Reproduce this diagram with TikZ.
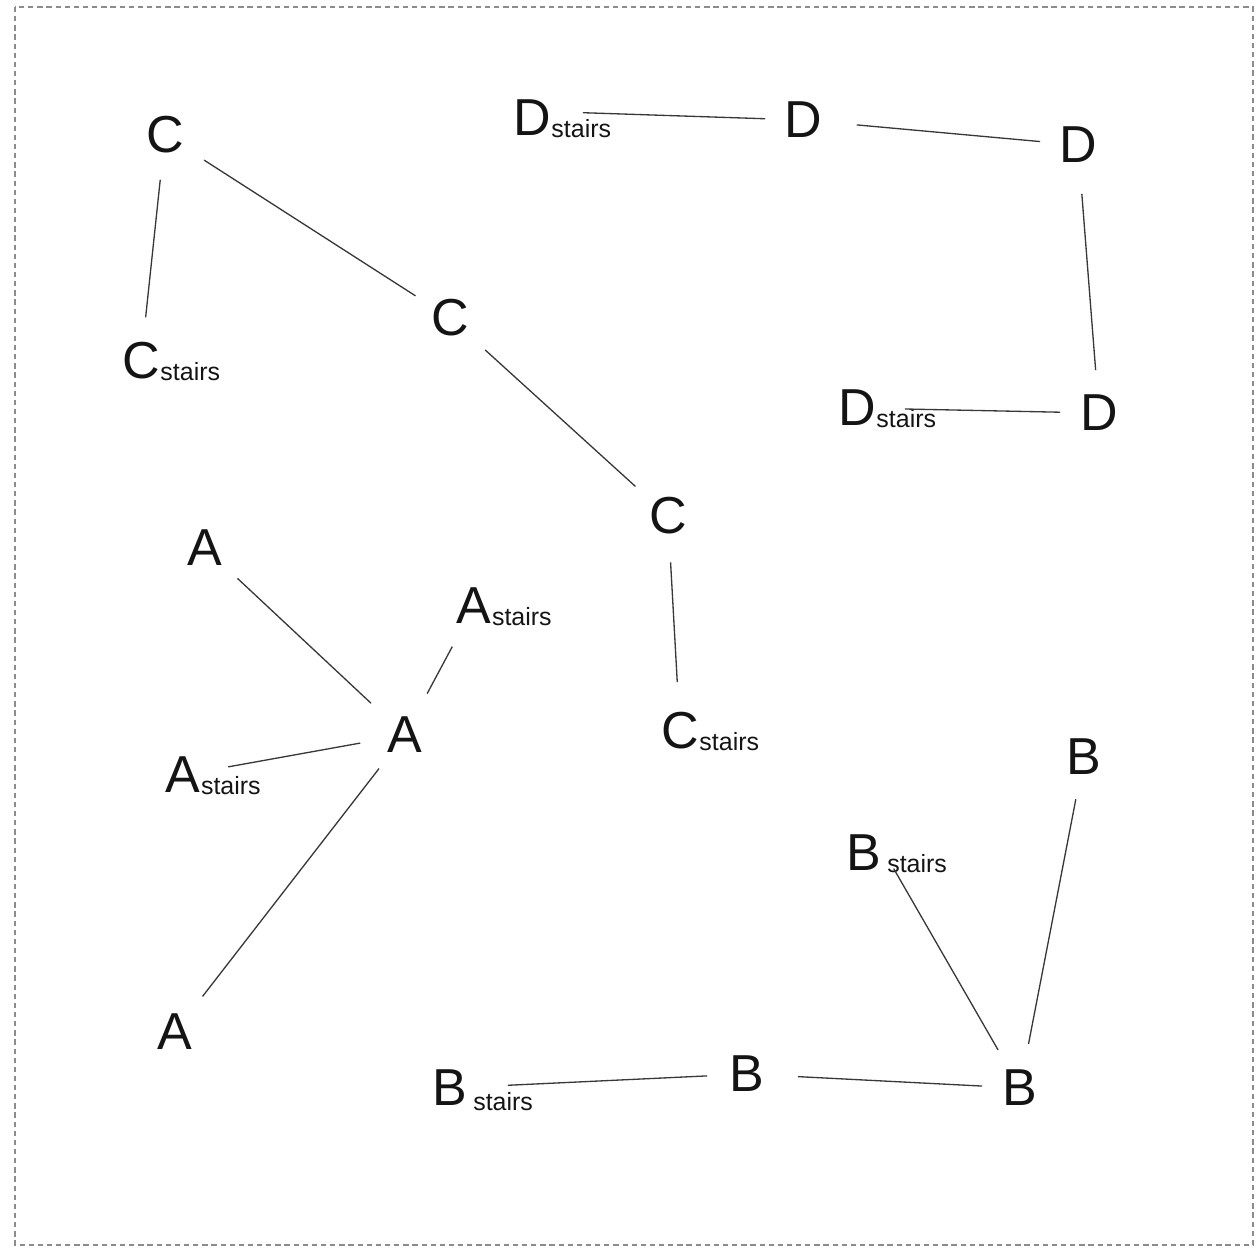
\documentclass[tikz,border=0pt]{standalone}
\usepackage{fontspec}
\setmainfont{Liberation Sans}
\newcommand\mainf{\fontsize{29.6}{30}\selectfont}
\newcommand\subf{\fontsize{14.2}{15}\selectfont}
\usetikzlibrary{calc}
\tikzset{
  lett/.style={inner sep=0pt, text=black!92, font=\mainf},
  subs/.style={inner sep=0pt, anchor=base west, text=black!92, font=\subf, yshift=-1pt},
  edge/.style={draw=black!78, line width=0.75pt},
  frame/.style={draw=black!45, line width=0.6pt, dash pattern=on 3pt off 2.2pt}
}
\begin{document}
\begin{tikzpicture}[x=0.02cm,y=-0.02cm]
\useasboundingbox (0,0) rectangle (1259,1259);
\draw[frame] (15,7) rectangle (1253,1245);

% C group
\node[lett] (c1) at (165,135) {C};
\node[lett] (cs1) at (141,361) {C};
\node[subs] (cs1s) at (cs1.base east) {stairs};
\node[lett] (c2) at (450,318) {C};
\node[lett] (c3) at (668,516) {C};
\node[lett] (cs3) at (680,731) {C};
\node[subs] (cs3s) at (cs3.base east) {stairs};

% D group
\node[lett] (ds1) at (532,118) {D};
\node[subs] (ds1s) at (ds1.base east) {stairs};
\node[lett] (d2) at (803,120) {D};
\node[lett] (d3) at (1078,145) {D};
\node[lett] (d4) at (1099,413) {D};
\node[lett] (ds2) at (857,408) {D};
\node[subs] (ds2s) at (ds2.base east) {stairs};

% A group
\node[lett] (a1) at (205,548) {A};
\node[lett] (as1) at (474,606) {A};
\node[subs] (as1s) at (as1.base east) {stairs};
\node[lett] (a2) at (405,735) {A};
\node[lett] (as2) at (183,775) {A};
\node[subs] (as2s) at (as2.base east) {stairs};
\node[lett] (a3) at (175,1032) {A};

% B group
\node[lett] (b1) at (1084,757) {B};
\node[lett] (bs1) at (864,853) {B};
\node[subs, xshift=3pt] (bs1s) at (bs1.base east) {stairs};
\node[lett] (b3) at (1020,1088) {B};
\node[lett] (b2) at (747,1074) {B};
\node[lett] (bs2) at (450,1088) {B};
\node[subs, xshift=3pt, yshift=-1.5pt] (bs2s) at (bs2.base east) {stairs};

% edges
\draw[edge, shorten <=0.90cm, shorten >=0.88cm] (c1.center) -- (cs1.center);
\draw[edge, shorten <=0.93cm, shorten >=0.82cm] (c1.center) -- (c2.center);
\draw[edge, shorten <=0.95cm, shorten >=0.88cm] (c2.center) -- (c3.center);
\draw[edge, shorten <=0.93cm, shorten >=0.98cm] (c3.center) -- (cs3.center);

\draw[edge, shorten <=1.02cm, shorten >=0.76cm] ($(ds1.center)+(0,-7)$) -- (d2.center);
\draw[edge, shorten <=1.08cm, shorten >=0.76cm] (d2.center) -- (d3.center);
\draw[edge, shorten <=0.98cm, shorten >=0.86cm] (d3.center) -- (d4.center);
\draw[edge, shorten <=0.78cm, shorten >=0.96cm] (d4.center) -- (ds2.center);

\draw[edge, shorten <=0.89cm, shorten >=0.93cm] (a1.center) -- (a2.center);
\draw[edge, shorten <=0.94cm, shorten >=0.92cm] (a2.center) -- (as1.center);
\draw[edge, shorten <=0.91cm, shorten >=0.92cm] (a2.center) -- (as2.center);
\draw[edge, shorten <=0.85cm, shorten >=0.90cm] (a2.center) -- (a3.center);

\draw[edge, shorten <=0.36cm, shorten >=0.88cm] ($(bs1.east)+(3,0)$) -- (b3.center);
\draw[edge, shorten <=0.86cm, shorten >=0.90cm] (b1.center) -- (b3.center);
\draw[edge, shorten <=1.02cm, shorten >=0.76cm] (b2.center) -- (b3.center);
\draw[edge, shorten <=1.16cm, shorten >=0.80cm] (bs2.center) -- (b2.center);
\end{tikzpicture}
\end{document}
